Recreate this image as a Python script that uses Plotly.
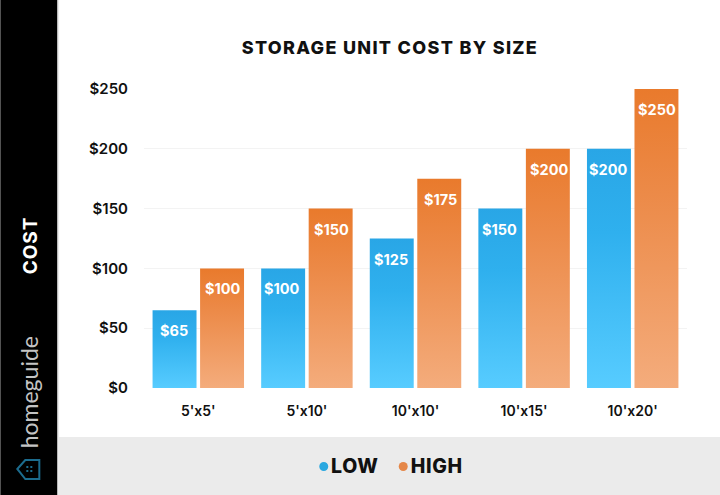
import plotly.graph_objects as go

categories = ["5'x5'", "5'x10'", "10'x10'", "10'x15'", "10'x20'"]
low_values = [65, 100, 125, 150, 200]
high_values = [100, 150, 175, 200, 250]
y_ticks = [0, 50, 100, 150, 200, 250]
y_tick_labels = ["$0", "$50", "$100", "$150", "$200", "$250"]

W, H = 720, 495
L, R, T, B = 143.7, 33.2, 89, 107
FONT = "Inter"

def px(x):
    return (x - L) / (W - L - R)

def py(y):
    return 1 - (y - T) / (H - T - B)

def path(points):
    return "M " + " L ".join(f"{px(x):.5f},{py(y):.5f}" for x, y in points) + " Z"

fig = go.Figure()
fig.add_bar(name="LOW", x=categories, y=low_values, marker=dict(color="#2AA8E8", line_width=0), showlegend=False)
fig.add_bar(name="HIGH", x=categories, y=high_values, marker=dict(color="#E8792B", line_width=0), showlegend=False)

shapes = [
    dict(type="rect", xref="paper", yref="paper", layer="below", x0=px(0), x1=px(57), y0=py(0), y1=py(H),
         fillcolor="#000000", line_width=0),
    dict(type="rect", xref="paper", yref="paper", layer="below", x0=px(57), x1=px(58), y0=py(0), y1=py(H),
         fillcolor="#BDBDBD", line_width=0),
    dict(type="rect", xref="paper", yref="paper", layer="below", x0=px(58), x1=px(W), y0=py(437), y1=py(H),
         fillcolor="#EBEBEB", line_width=0),
    dict(type="circle", xref="paper", yref="paper", x0=px(319), x1=px(328), y0=py(462), y1=py(471),
         fillcolor="#2AA8E0", line_width=0),
    dict(type="circle", xref="paper", yref="paper", x0=px(398.5), x1=px(407.5), y0=py(462), y1=py(471),
         fillcolor="#E58748", line_width=0),
    dict(type="path", xref="paper", yref="paper", path=path([(17, 469), (25, 460), (39, 460), (39, 479), (25, 479)]),
         line=dict(color="#1C6C8E", width=2), fillcolor="rgba(0,0,0,0)"),
]
for dx in (27, 31):
    for dy in (467, 471):
        shapes.append(dict(type="rect", xref="paper", yref="paper", x0=px(dx - 1), x1=px(dx + 1),
                           y0=py(dy - 1), y1=py(dy + 1), fillcolor="#1C6C8E", line_width=0))

def label(text, x, y, font, xanchor="center", angle=0):
    return dict(text=text, xref="paper", yref="paper", x=px(x), y=py(y), showarrow=False,
                xanchor=xanchor, yanchor="middle", textangle=angle, font=font)

annotations = [
    label("STORAGE UNIT COST BY SIZE", 390, 47, dict(family=FONT, size=18, color="#111111", weight=800)),
    label("COST", 30, 245, dict(family=FONT, size=19, color="#FFFFFF", weight=700), angle=-90),
    label("homeguide", 29, 392, dict(family="Lato", size=23, color="#C4C4C4"), angle=-90),
    label("LOW", 330, 466, dict(family=FONT, size=19.5, color="#111111", weight=800), xanchor="left"),
    label("HIGH", 410, 466, dict(family=FONT, size=19.5, color="#111111", weight=800), xanchor="left"),
]
for values, shift in ((low_values, -24.5), (high_values, 24.5)):
    for c, v in zip(categories, values):
        annotations.append(dict(text=f"${v}", x=c, y=v, xref="x", yref="y", xshift=shift, yshift=-10,
                                yanchor="top", showarrow=False,
                                font=dict(family=FONT, size=14.5, color="#FFFFFF", weight=700)))

fig.update_layout(
    width=W, height=H, margin=dict(l=L, r=R, t=T, b=B, pad=0),
    paper_bgcolor="#FFFFFF", plot_bgcolor="#FFFFFF", barmode="group", bargap=0.125, bargroupgap=0.075,
    showlegend=False, shapes=shapes, annotations=annotations,
    font=dict(family=FONT, color="#111111"),
    xaxis=dict(type="category", showgrid=False, zeroline=False, showline=False, ticks="", ticklabelstandoff=13,
               tickfont=dict(family=FONT, size=14, color="#111111", weight=600)),
    yaxis=dict(range=[0, 250], tickvals=y_ticks, ticktext=y_tick_labels, gridcolor="#F3F3F3", gridwidth=1,
               zeroline=False, showline=False, ticks="", ticklabelstandoff=15,
               tickfont=dict(family=FONT, size=15, color="#111111", weight=600)),
)

post = """
document.documentElement.style.overflow='hidden';
document.body.style.margin='0';
(function(){
  var gd=document.querySelector('.plotly-graph-div');
  var svg=gd.querySelector('svg.main-svg');
  var ns='http://www.w3.org/2000/svg';
  var defs=svg.querySelector('defs')||svg.insertBefore(document.createElementNS(ns,'defs'),svg.firstChild);
  function grad(id,stops){
    var g=document.createElementNS(ns,'linearGradient');
    g.setAttribute('id',id);g.setAttribute('x1','0');g.setAttribute('x2','0');g.setAttribute('y1','0');g.setAttribute('y2','1');
    stops.forEach(function(s){var e=document.createElementNS(ns,'stop');e.setAttribute('offset',s[0]);e.setAttribute('stop-color',s[1]);g.appendChild(e);});
    defs.appendChild(g);
  }
  grad('gradLow',[[0,'#29A6E6'],[0.35,'#2FB0EE'],[1,'#57CCFF']]);
  grad('gradHigh',[[0,'#E97A2C'],[0.35,'#EC8A48'],[1,'#F4AC7C']]);
  gd.querySelectorAll('.barlayer .trace').forEach(function(t,i){
    t.querySelectorAll('.point path').forEach(function(p){
      p.style.fill='url(#'+(i===0?'gradLow':'gradHigh')+')';
    });
  });
  gd.querySelectorAll('.annotation-text').forEach(function(t){
    var s=t.textContent;
    if(s.indexOf('STORAGE')===0){t.style.letterSpacing='1.3px';}
    if(s==='COST'){t.style.letterSpacing='1px';}
    if(s==='LOW'||s==='HIGH'){t.style.letterSpacing='0.6px';}
  });
})();
"""
fig.write_html("out.html", post_script=post, config=dict(displayModeBar=False))
